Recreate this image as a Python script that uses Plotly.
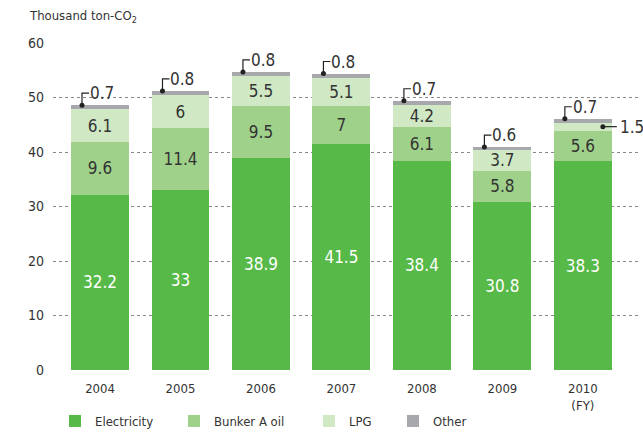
import plotly.graph_objects as go

# Fiscal years and CO2 emissions by source (thousand ton-CO2)
years = ["2004", "2005", "2006", "2007", "2008", "2009", "2010"]
electricity = [32.2, 33, 38.9, 41.5, 38.4, 30.8, 38.3]
bunker_a_oil = [9.6, 11.4, 9.5, 7, 6.1, 5.8, 5.6]
lpg = [6.1, 6, 5.5, 5.1, 4.2, 3.7, 1.5]
other = [0.7, 0.8, 0.8, 0.8, 0.7, 0.6, 0.7]

FONT = "DejaVu Sans Condensed, Liberation Sans Narrow, Arial Narrow, sans-serif"
C_ELEC = "#57b947"
C_OIL = "#a0d18a"
C_LPG = "#d0e8c4"
C_OTHER = "#a7a8ab"
TEXT_DARK = "#333333"
LINE_DARK = "#222222"

W, H = 643, 432
M_L, M_R, M_T, M_B = 53, 3, 43, 62

xs = list(range(len(years)))
totals = [e + b + l + o for e, b, l, o in zip(electricity, bunker_a_oil, lpg, other)]

# Segments too thin for an inside label get a callout instead
MIN_INSIDE = 2.0


def fmt(v):
    return f"{v:g}"


fig = go.Figure()

series = [
    ("Electricity", electricity, C_ELEC, "white", "legend", True),
    ("Bunker A oil", bunker_a_oil, C_OIL, TEXT_DARK, "legend2", True),
    ("LPG", lpg, C_LPG, TEXT_DARK, "legend3", True),
    ("Other", other, C_OTHER, TEXT_DARK, "legend4", False),
]

for name, vals, color, tcolor, leg, labelled in series:
    fig.add_trace(go.Bar(
        x=xs, y=vals, name=name,
        marker=dict(color=color, line=dict(width=0)),
        width=0.72,
        text=[fmt(v) for v in vals] if labelled else None,
        textposition=[("inside" if (labelled and v >= MIN_INSIDE) else "none") for v in vals],
        insidetextanchor="middle",
        textangle=0,
        constraintext="none",
        textfont=dict(family=FONT, size=17, color=tcolor),
        legend=leg,
        hoverinfo="skip",
    ))

# Pixel scale helpers for callout geometry
PX_X = 80.5   # pixels per category step
PX_Y = 5.45   # pixels per unit of y

dot_x, dot_y = [], []
shapes = []
annotations = []

# Callouts for the "Other" segment above each stack
for i, (tot, o) in enumerate(zip(totals, other)):
    x0 = i - 18 / PX_X
    y0 = tot
    y1 = tot + 12 / PX_Y
    x1 = x0 + 7 / PX_X
    dot_x.append(x0)
    dot_y.append(y0)
    shapes.append(dict(type="path", xref="x", yref="y",
                       path=f"M {x0},{y0} L {x0},{y1} L {x1},{y1}",
                       line=dict(color=LINE_DARK, width=1.2)))
    annotations.append(dict(x=x1, y=y1, xref="x", yref="y", text=fmt(o),
                            showarrow=False, xanchor="left", yanchor="middle",
                            xshift=-1,
                            font=dict(family=FONT, size=17, color=TEXT_DARK)))

# Side callouts for thin LPG segments
for i, (e, b, l) in enumerate(zip(electricity, bunker_a_oil, lpg)):
    if l >= MIN_INSIDE:
        continue
    x0 = i + 20 / PX_X
    y0 = e + b + l / 2
    x1 = x0 + 14 / PX_X
    dot_x.append(x0)
    dot_y.append(y0)
    shapes.append(dict(type="line", xref="x", yref="y", x0=x0, y0=y0, x1=x1, y1=y0,
                       line=dict(color=LINE_DARK, width=1.2)))
    annotations.append(dict(x=x1, y=y0, xref="x", yref="y", text=fmt(l),
                            showarrow=False, xanchor="left", yanchor="middle",
                            xshift=1,
                            font=dict(family=FONT, size=17, color=TEXT_DARK)))

fig.add_trace(go.Scatter(
    x=dot_x, y=dot_y, mode="markers",
    marker=dict(color=LINE_DARK, size=5),
    showlegend=False, hoverinfo="skip", cliponaxis=False,
))

# Unit label in the top-left corner
plot_w = W - M_L - M_R
plot_h = H - M_T - M_B
annotations.append(dict(
    x=(27 - M_L) / plot_w, y=1 + (M_T - 17) / plot_h,
    xref="paper", yref="paper", text="Thousand ton-CO<sub>2</sub>",
    showarrow=False, xanchor="left", yanchor="middle",
    font=dict(family=FONT, size=13, color=TEXT_DARK),
))

tick_text = years[:-1] + [years[-1] + "<br>(FY)"]

legend_common = dict(orientation="h", xref="container", yref="container",
                     xanchor="left", yanchor="middle", bgcolor="rgba(0,0,0,0)",
                     font=dict(family=FONT, size=13, color=TEXT_DARK),
                     itemwidth=30, itemsizing="constant")

leg_pos = [55, 174, 309, 393]
legend_y = 1 - 421 / H

fig.update_layout(
    width=W, height=H,
    margin=dict(l=M_L, r=M_R, t=M_T, b=M_B, pad=0, autoexpand=False),
    paper_bgcolor="white", plot_bgcolor="white",
    barmode="stack",
    font=dict(family=FONT, size=13, color=TEXT_DARK),
    xaxis=dict(
        range=[-0.584, 6.71],
        tickvals=xs, ticktext=tick_text,
        showgrid=False, zeroline=False, showline=False,
        ticks="", tickfont=dict(family=FONT, size=13, color=TEXT_DARK),
        ticklabelstandoff=9, automargin=False,
    ),
    yaxis=dict(
        range=[0, 60], dtick=10,
        showgrid=True, gridcolor="#888888", griddash="dot", gridwidth=1,
        zeroline=False, showline=False, ticks="",
        tickfont=dict(family=FONT, size=14, color=TEXT_DARK),
        ticklabelstandoff=8, automargin=False,
    ),
    shapes=shapes,
    annotations=annotations,
    legend=dict(x=leg_pos[0] / W, y=legend_y, **legend_common),
    legend2=dict(x=leg_pos[1] / W, y=legend_y, **legend_common),
    legend3=dict(x=leg_pos[2] / W, y=legend_y, **legend_common),
    legend4=dict(x=leg_pos[3] / W, y=legend_y, **legend_common),
)

fig.write_html("out.html")
